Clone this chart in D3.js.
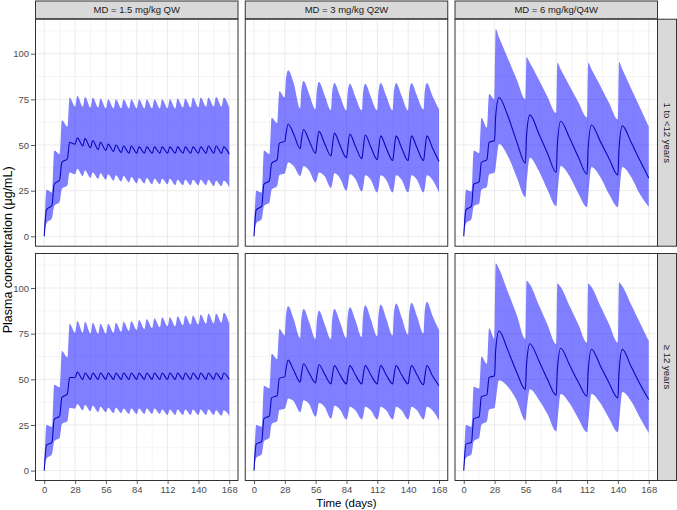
<!DOCTYPE html>
<html>
<head>
<meta charset="utf-8">
<script src="https://cdn.jsdelivr.net/npm/d3@7/dist/d3.min.js"></script>
<style>
  body { margin: 0; background: #fff; }
  text { font-family: "Liberation Sans", Arial, sans-serif; }
</style>
</head>
<body>
<div id="chart"></div>
<script>
// facet labels
var colLabels = ["MD = 1.5 mg/kg QW", "MD = 3 mg/kg Q2W", "MD = 6 mg/kg/Q4W"];
var rowLabels = ["1 to <12 years", "\u2265 12 years"];
var xTicks = [0, 28, 56, 84, 112, 140, 168];
var yTicks = [0, 25, 50, 75, 100];

// time knots (days): troughs at dosing, peaks after
var daysQW = [0, 2, 7, 9, 14, 16, 21, 23, 28, 30, 35, 37, 42, 44, 49, 51, 56, 58, 63, 65, 70, 72, 77, 79,
  84, 86, 91, 93, 98, 100, 105, 107, 112, 114, 119, 121, 126, 128, 133, 135, 140, 142, 147, 149,
  154, 156, 161, 163, 168];
var daysQ2W = [0, 2, 7, 9, 14, 16, 21, 23, 28, 29, 31, 36, 42, 43, 45, 50, 56, 57, 59, 64, 70, 71, 73, 78,
  84, 85, 87, 92, 98, 99, 101, 106, 112, 113, 115, 120, 126, 127, 129, 134, 140, 141, 143, 148,
  154, 155, 157, 162, 168];
var daysQ4W = [0, 2, 7, 9, 14, 16, 21, 23, 28, 29, 32, 40, 48, 56, 57, 60, 68, 76, 84, 85, 88, 96, 104,
  112, 113, 116, 124, 132, 140, 141, 144, 152, 160, 168];

// 1 to <12 years, QW
var medQW1 = [0, 14.5, 17, 28.5, 31, 40.5, 42.5, 51.5, 50.5, 54, 49.5, 53.5, 48.5, 52.5, 47.5, 51.5, 47, 50.5,
  46.5, 50, 46, 49.5, 45.5, 49.5, 45.5, 49, 45.5, 49, 45.5, 49, 45.5, 49, 45.5, 49, 45.5, 49, 45.5, 49,
  45.5, 49, 45.5, 49, 45.5, 49.5, 45.5, 49.5, 45.5, 49, 45];
var loQW1 = [0, 7, 10, 16.5, 19, 26, 28, 35, 34, 37, 33, 36, 32, 35, 31.5, 34.5, 31, 34, 30.5, 33.5, 30, 33,
  29.5, 32.5, 29, 32, 29, 32, 28.5, 31.5, 28.5, 31.5, 28.5, 31.5, 28, 31, 28, 31, 28, 31, 28, 31, 28, 31,
  27.5, 30.5, 27.5, 30.5, 27];
var hiQW1 = [0, 25.5, 24, 47, 45, 63.5, 60, 76, 71, 77, 71, 76.5, 70.5, 76, 70.5, 75.5, 70, 75, 70, 75, 70, 75,
  70, 75, 70, 75, 70, 75, 70, 75, 70, 75, 70, 75, 70, 75.5, 70.5, 75.5, 70.5, 76, 70.5, 76, 71, 76, 71,
  76.5, 71, 76, 70.5];

// >= 12 years, QW
var medQW2 = [0, 14, 15.5, 28, 30, 40, 42, 51, 51, 54, 50, 53.5, 50, 53.5, 50, 53.5, 50, 53.5, 50, 53.5, 50,
  53.5, 50, 53.5, 50, 53.5, 50, 53.5, 50, 53.5, 50, 53.5, 50, 53.5, 50, 53.5, 50, 53.5, 50, 53.5, 50, 53.5,
  50, 53.5, 50, 53.5, 50, 53.5, 50];
var loQW2 = [0, 6.5, 9, 16, 18, 25.5, 27, 34.5, 34, 36.5, 33, 36, 32.5, 35.5, 32, 35, 32, 34.5, 31.5, 34.5,
  31.5, 34, 31, 34, 31, 34, 31, 34, 31, 34, 31, 33.5, 30.5, 33.5, 30.5, 33.5, 30.5, 33.5, 30.5, 33.5, 30.5,
  33.5, 30.5, 33.5, 30.5, 33, 30, 33, 30];
var hiQW2 = [0, 25, 24, 47, 45.5, 65.5, 62, 80.5, 75.5, 82, 75.5, 81.5, 75, 81, 75, 80.5, 75, 80.5, 75.5, 81,
  76, 81.5, 76.5, 82, 77, 82.5, 77.5, 83, 78, 83.5, 78.5, 84, 79, 84, 79, 84.5, 79.5, 85, 80, 85, 80, 85.5,
  80.5, 86, 80.5, 86, 81, 86.5, 80.5];

// 1 to <12 years, Q2W
var medQ2W1 = [0, 14.5, 16.5, 28.5, 30.5, 40, 42, 51, 52, 56, 61.5, 56, 48, 52.5, 58.5, 52.5, 45.5, 50, 57.5,
  51, 44, 48.5, 56.5, 50, 43, 47.5, 56, 49.5, 42.5, 47, 55.5, 49, 42, 46.5, 55, 48.5, 41.5, 46, 55, 48.5,
  41.5, 46, 55, 48.5, 41.5, 46, 55, 48.5, 41];
var loQ2W1 = [0, 7, 9.5, 16.5, 18.5, 25.5, 27.5, 33.5, 34.5, 36.5, 40.5, 38.5, 33, 34.5, 38.5, 36, 29.5, 31,
  35, 33, 26.5, 28.5, 34.5, 32, 25, 27, 34, 31.5, 24.5, 26.5, 33.5, 31, 24, 26, 33.5, 31, 24, 26, 33.5, 31,
  24, 26, 33.5, 31, 24, 26, 33.5, 31, 24];
var hiQ2W1 = [0, 25, 24, 47, 45, 65, 62, 79.5, 76, 86, 91, 84, 70, 80, 85, 78, 69.5, 79.5, 84.5, 77.5, 69, 79,
  84, 77, 69, 78.5, 83.5, 76.5, 69, 78.5, 83.5, 76.5, 69, 79, 84, 77, 69, 79, 84, 77, 69, 79, 84, 77, 69.5,
  79, 84, 77, 69.5];

// >= 12 years, Q2W
var medQ2W2 = [0, 14.5, 16, 28.5, 30, 40, 41, 50.5, 51.5, 55.5, 60.5, 55, 48.5, 52.5, 58.5, 53.5, 48, 52, 58,
  53, 47.5, 51.5, 57.5, 52.5, 47.5, 51.5, 57.5, 52.5, 47.5, 51.5, 57.5, 52.5, 47.5, 51.5, 57.5, 52.5, 47.5,
  51.5, 57.5, 52.5, 47.5, 51.5, 57.5, 52.5, 47, 51, 57.5, 52, 46.5];
var loQ2W2 = [0, 7, 9, 16, 18, 25.5, 27, 33, 34, 35.5, 39.5, 38, 32, 33.5, 38.5, 36.5, 29.5, 31, 37, 35, 28.5,
  30, 35.5, 33.5, 28, 29.5, 35, 33, 28, 29.5, 35, 33, 28, 29.5, 35, 33, 28, 29.5, 35, 33, 28, 29.5, 35, 33,
  28, 29.5, 35, 33, 27.5];
var hiQ2W2 = [0, 25, 24, 46.5, 45, 64, 61, 77.5, 74, 85, 90, 83, 72.5, 83, 88.5, 81.5, 72, 82, 87.5, 80.5, 72,
  83, 88.5, 81.5, 72.5, 84, 89.5, 82.5, 73, 84.5, 90.5, 83, 73.5, 85, 91, 83.5, 74, 86, 91.5, 84, 74.5,
  86.5, 92, 84.5, 75, 87, 92.5, 85, 77];

// 1 to <12 years, Q4W
var medQ4W1 = [0, 14.5, 16.5, 28.5, 30, 40.5, 42, 51.5, 52.5, 66, 76, 66, 52, 40, 55, 66.5, 56.5, 45.5, 35,
  50, 63, 54, 43.5, 34, 48.5, 61, 52, 42.5, 33.5, 48, 60.5, 51.5, 41.5, 32];
var loQ4W1 = [0, 7, 9.5, 16.5, 18, 25.5, 27, 34, 35, 38, 50.5, 44, 32.5, 21.5, 28, 43, 36, 25.5, 16.5, 22,
  38.5, 33, 23.5, 16, 21.5, 38, 32.5, 23, 16, 21.5, 38, 32.5, 23, 16];
var hiQ4W1 = [0, 25.5, 24.5, 47, 45.5, 65, 59.5, 78, 75, 113.5, 109, 97.5, 86, 75, 98, 95, 86, 76.5, 67.5,
  95, 91.5, 82.5, 73.5, 65, 95, 91.5, 82.5, 73, 64, 95.5, 91.5, 81, 70.5, 60];

// >= 12 years, Q4W
var medQ4W2 = [0, 14.5, 15.5, 28.5, 29.5, 40.5, 41.5, 51, 52, 66, 76.5, 66, 54, 44.5, 58, 69.5, 60.5, 50,
  41.3, 55, 67, 58, 48.5, 40.7, 54.5, 66.5, 57.5, 48, 39.8, 54, 66.4, 57, 47.5, 38.9];
var loQ4W2 = [0, 7, 9, 16, 18, 25, 27, 33.5, 34.3, 38, 49.5, 46, 38.5, 27.5, 32, 44.5, 39, 31, 21.5, 26, 42,
  37, 28.5, 21, 25.5, 42, 37, 28.5, 21, 25.5, 43, 38, 29, 20.6];
var hiQ4W2 = [0, 25, 24, 46, 45, 62.5, 58.5, 78, 72, 113.5, 110.5, 98, 85.5, 72, 104, 102, 91, 80, 69.2,
  102.5, 100.5, 90.3, 80.2, 70, 102.5, 100.5, 90.3, 80.2, 70, 103, 101, 91, 81, 71];

var svgWidth = 677;
var svgHeight = 510;

var margin = { top: 18.7, left: 35 };
var panelW = 203.5, panelH = 228;
var gapX = 6.25, gapY = 6.3;
var stripH = 18.2, stripW = 19;

// build the panel list from the arrays above
var panels = [
  { row: 0, col: 0, days: daysQW, med: medQW1, lo: loQW1, hi: hiQW1 },
  { row: 0, col: 1, days: daysQ2W, med: medQ2W1, lo: loQ2W1, hi: hiQ2W1 },
  { row: 0, col: 2, days: daysQ4W, med: medQ4W1, lo: loQ4W1, hi: hiQ4W1 },
  { row: 1, col: 0, days: daysQW, med: medQW2, lo: loQW2, hi: hiQW2 },
  { row: 1, col: 1, days: daysQ2W, med: medQ2W2, lo: loQ2W2, hi: hiQ2W2 },
  { row: 1, col: 2, days: daysQ4W, med: medQ4W2, lo: loQ4W2, hi: hiQ4W2 }
];
panels.forEach(function(p) {
  p.points = p.days.map(function(t, i) {
    return { t: t, med: p.med[i], lo: p.lo[i], hi: p.hi[i] };
  });
});

// shared scales, ggplot style 5% expansion
var xMin = 0, xMax = 168;
var xPad = (xMax - xMin) * 0.05;
var xScale = d3.scaleLinear()
  .domain([xMin - xPad, xMax + xPad])
  .range([0, panelW]);

var yMax = d3.max(panels, function(p) { return d3.max(p.hi); });
var yPad = yMax * 0.05;
var yScale = d3.scaleLinear()
  .domain([0 - yPad, yMax + yPad])
  .range([panelH, 0]);

var xMinor = [14, 42, 70, 98, 126, 154];
var yMinor = [12.5, 37.5, 62.5, 87.5, 112.5];

var svg = d3.select("#chart").append("svg")
  .attr("width", svgWidth)
  .attr("height", svgHeight);

svg.append("rect")
  .attr("width", svgWidth)
  .attr("height", svgHeight)
  .attr("fill", "#fff");

function panelX(col) { return margin.left + col * (panelW + gapX); }
function panelY(row) { return margin.top + row * (panelH + gapY); }

var area = d3.area()
  .x(function(d) { return xScale(d.t); })
  .y0(function(d) { return yScale(d.lo); })
  .y1(function(d) { return yScale(d.hi); })
  .curve(d3.curveMonotoneX);

var line = d3.line()
  .x(function(d) { return xScale(d.t); })
  .y(function(d) { return yScale(d.med); })
  .curve(d3.curveMonotoneX);

panels.forEach(function(p, i) {
  var g = svg.append("g")
    .attr("transform", "translate(" + panelX(p.col) + "," + panelY(p.row) + ")");

  // clip
  g.append("clipPath").attr("id", "clip" + i)
    .append("rect").attr("width", panelW).attr("height", panelH);

  // grid lines
  var grid = g.append("g");
  grid.selectAll(".xminor").data(xMinor).enter().append("line")
    .attr("x1", d => xScale(d)).attr("x2", d => xScale(d))
    .attr("y1", 0).attr("y2", panelH)
    .attr("stroke", "#EBEBEB").attr("stroke-width", 0.5);
  grid.selectAll(".yminor").data(yMinor).enter().append("line")
    .attr("x1", 0).attr("x2", panelW)
    .attr("y1", d => yScale(d)).attr("y2", d => yScale(d))
    .attr("stroke", "#EBEBEB").attr("stroke-width", 0.5);
  grid.selectAll(".xmajor").data(xTicks).enter().append("line")
    .attr("x1", d => xScale(d)).attr("x2", d => xScale(d))
    .attr("y1", 0).attr("y2", panelH)
    .attr("stroke", "#EBEBEB").attr("stroke-width", 1);
  grid.selectAll(".ymajor").data(yTicks).enter().append("line")
    .attr("x1", 0).attr("x2", panelW)
    .attr("y1", d => yScale(d)).attr("y2", d => yScale(d))
    .attr("stroke", "#EBEBEB").attr("stroke-width", 1);

  var plot = g.append("g").attr("clip-path", "url(#clip" + i + ")");

  // 90% band
  plot.append("path")
    .datum(p.points)
    .attr("d", area)
    .attr("fill", "#0000FF")
    .attr("fill-opacity", 0.5)
    .attr("stroke", "none");

  // median
  plot.append("path")
    .datum(p.points)
    .attr("d", line)
    .attr("fill", "none")
    .attr("stroke", "#0808BC")
    .attr("stroke-width", 1.1);

  // border
  g.append("rect")
    .attr("x", 0.5).attr("y", 0.5)
    .attr("width", panelW - 1).attr("height", panelH - 1)
    .attr("fill", "none")
    .attr("stroke", "#333333")
    .attr("stroke-width", 1);

  // axes only on outer panels
  if (p.col === 0) {
    var yAxis = g.append("g")
      .call(d3.axisLeft(yScale).tickValues(yTicks).tickSize(4).tickPadding(2));
    styleAxis(yAxis);
  }
  if (p.row === 1) {
    var xAxis = g.append("g")
      .attr("transform", "translate(0," + panelH + ")")
      .call(d3.axisBottom(xScale).tickValues(xTicks).tickSize(3).tickPadding(2));
    styleAxis(xAxis);
  }
});

function styleAxis(ax) {
  ax.select(".domain").remove();
  ax.selectAll(".tick line").attr("stroke", "#333333").attr("stroke-width", 0.8);
  ax.selectAll(".tick text")
    .attr("fill", "#4D4D4D")
    .style("font-size", "9.5px")
    .style("font-family", "'Liberation Sans', Arial, sans-serif");
}

// top strips
colLabels.forEach(function(lab, c) {
  var g = svg.append("g")
    .attr("transform", "translate(" + panelX(c) + "," + (margin.top - stripH) + ")");
  g.append("rect")
    .attr("x", 0.5).attr("y", 0.5)
    .attr("width", panelW - 1).attr("height", stripH - 0.5)
    .attr("fill", "#D9D9D9")
    .attr("stroke", "#333333")
    .attr("stroke-width", 1);
  g.append("text")
    .attr("x", panelW / 2)
    .attr("y", stripH / 2 + 0.5)
    .attr("dy", "0.35em")
    .attr("text-anchor", "middle")
    .attr("fill", "#1A1A1A")
    .style("font-size", "9.5px")
    .text(lab);
});

// right strips
rowLabels.forEach(function(lab, r) {
  var x0 = panelX(2) + panelW;
  var g = svg.append("g")
    .attr("transform", "translate(" + x0 + "," + panelY(r) + ")");
  g.append("rect")
    .attr("x", -0.5).attr("y", 0.5)
    .attr("width", stripW).attr("height", panelH - 1)
    .attr("fill", "#D9D9D9")
    .attr("stroke", "#333333")
    .attr("stroke-width", 1);
  g.append("text")
    .attr("transform", "translate(" + (stripW / 2) + "," + (panelH / 2) + ") rotate(90)")
    .attr("dy", "0.35em")
    .attr("text-anchor", "middle")
    .attr("fill", "#1A1A1A")
    .style("font-size", "9.5px")
    .text(lab);
});

// axis titles
var plotRight = panelX(2) + panelW;
svg.append("text")
  .attr("x", (margin.left + plotRight) / 2)
  .attr("y", 507)
  .attr("text-anchor", "middle")
  .attr("fill", "#000")
  .style("font-size", "11.5px")
  .text("Time (days)");

svg.append("text")
  .attr("transform", "translate(8," + (margin.top + (2 * panelH + gapY) / 2) + ") rotate(-90)")
  .attr("dy", "0.35em")
  .attr("text-anchor", "middle")
  .attr("fill", "#000")
  .style("font-size", "12.5px")
  .text("Plasma concentration (\u03bcg/mL)");
</script>
</body>
</html>
